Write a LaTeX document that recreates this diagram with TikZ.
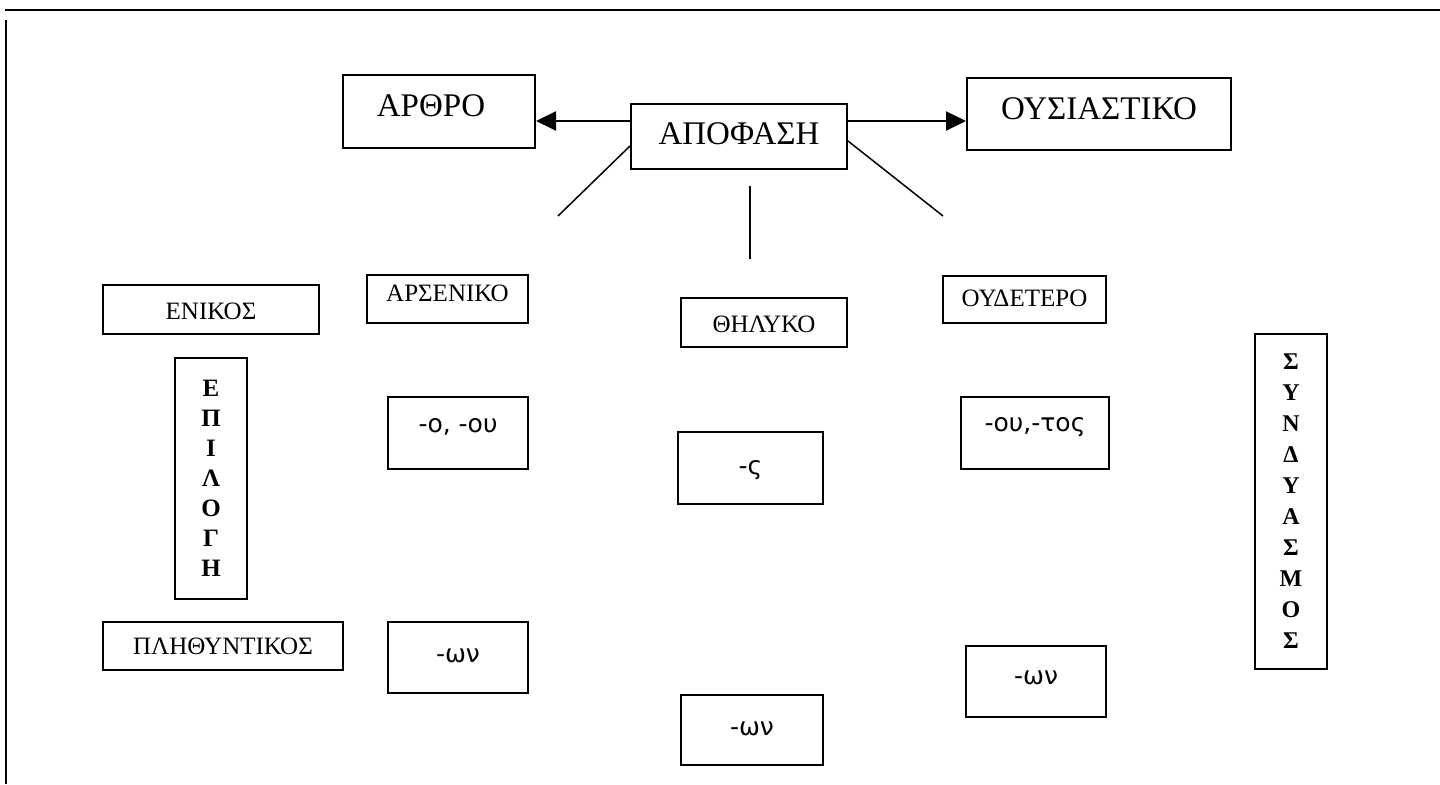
\documentclass[tikz,border=0pt]{standalone}
\usepackage{fontspec}
\setmainfont{Liberation Serif}
\newfontfamily\sansgr{DejaVu Sans}
\usetikzlibrary{arrows.meta}

\begin{document}
\begin{tikzpicture}[x=0.5pt, y=-0.5pt]
    \tikzset{
        n/.style        =   { rectangle
                            , draw=black
                            , line width=1pt
                            , inner sep=0pt
                            , anchor=north west
                            , text centered
        }
        , box/.style n args={3}{ n
                            , minimum width=#1
                            , text height=#2
                            , text depth=#3
        }
        , big/.style    =   { font=\fontsize{16.5}{19}\selectfont }
        , mid/.style    =   { font=\fontsize{12.5}{15}\selectfont }
        , end/.style    =   { font=\sansgr\fontsize{12.5}{15}\selectfont }
        , col/.style    =   { n
                            , align=center
                            , minimum width=36pt
                            , font=\bfseries\fontsize{12.5}{15}\selectfont
        }
        , arrow/.style  =   { line width=1pt
                            , -{Triangle[length=10pt, width=9.5pt]}
        }
        , branch/.style =   { line width=0.75pt }
        , frame/.style  =   { line width=1.4pt }
    }
    \useasboundingbox (0,0) rectangle (1440,785);

    % page frame
    \coordinate (ftl) at (5,10);
    \coordinate (ftr) at (1440,10);
    \coordinate (fl1) at (6,20);
    \coordinate (fl2) at (6,784);
    \draw[frame] (ftl) -- (ftr);
    \draw[frame] (fl1) -- (fl2);

    % top row
    \node(arthro)[box={96pt}{21pt}{15.5pt}, big]        at (342,74)  {\hspace*{-8pt}ΑΡΘΡΟ};
    \node(apofasi)[box={108pt}{20.25pt}{12.25pt}, big]  at (630,103) {ΑΠΟΦΑΣΗ};
    \node(ousiastiko)[box={132pt}{21pt}{15pt}, big]     at (966,77)  {ΟΥΣΙΑΣΤΙΚΟ};

    % genders and numbers
    \node(enikos)[box={108pt}{17.25pt}{7.25pt}, mid]    at (102,284) {ΕΝΙΚΟΣ};
    \node(arseniko)[box={80.5pt}{13.25pt}{10.75pt}, mid] at (366,274) {ΑΡΣΕΝΙΚΟ};
    \node(thilyko)[box={83pt}{17.25pt}{7.25pt}, mid]    at (680,297) {ΘΗΛΥΚΟ};
    \node(oudetero)[box={81.5pt}{15.5pt}{8pt}, mid]     at (942,275) {ΟΥΔΕΤΕΡΟ};
    \node(plithyntikos)[box={120pt}{16.25pt}{7.75pt}, mid] at (102,621) {ΠΛΗΘΥΝΤΙΚΟΣ};

    % vertical words
    \node(epilogi)[col, minimum height=120.5pt]         at (174,357)
        {Ε\\Π\\Ι\\Λ\\Ο\\Γ\\Η};
    \node(syndyasmos)[col, minimum height=167.5pt,
        font=\bfseries\fontsize{12}{15.5}\selectfont]   at (1254,333)
        {Σ\\Υ\\Ν\\Δ\\Υ\\Α\\Σ\\Μ\\Ο\\Σ};

    % endings
    \node(arsEnd1)[box={70pt}{18pt}{18pt}, end]         at (387,396) {-ο, -ου};
    \node(thiEnd1)[box={72.5pt}{21.5pt}{14.5pt}, end]   at (677,431) {-ς};
    \node(oudEnd1)[box={74pt}{17.5pt}{18.5pt}, end]     at (960,396) {-ου,-τος};
    \node(arsEnd2)[box={70pt}{20pt}{15.5pt}, end]       at (387,621) {-ων};
    \node(thiEnd2)[box={71pt}{20pt}{15pt}, end]         at (680,694) {-ων};
    \node(oudEnd2)[box={70pt}{19pt}{16.5pt}, end]       at (965,645) {-ων};

    % connectors
    \coordinate (aL) at ([yshift=7.75pt]apofasi.west);
    \coordinate (aR) at ([yshift=7.75pt]apofasi.east);
    \draw[arrow] (aL) -- (aL -| arthro.east);
    \draw[arrow] (aR) -- (aR -| ousiastiko.west);

    \coordinate (bL) at (558,216);
    \coordinate (bM1) at (750,186);
    \coordinate (bM2) at (750,259);
    \coordinate (bR) at (943,216);
    \draw[branch] ([yshift=-4.75pt]apofasi.west) -- (bL);
    \draw[branch] (bM1) -- (bM2);
    \draw[branch] ([yshift=-2.25pt]apofasi.east) -- (bR);
\end{tikzpicture}
\end{document}
